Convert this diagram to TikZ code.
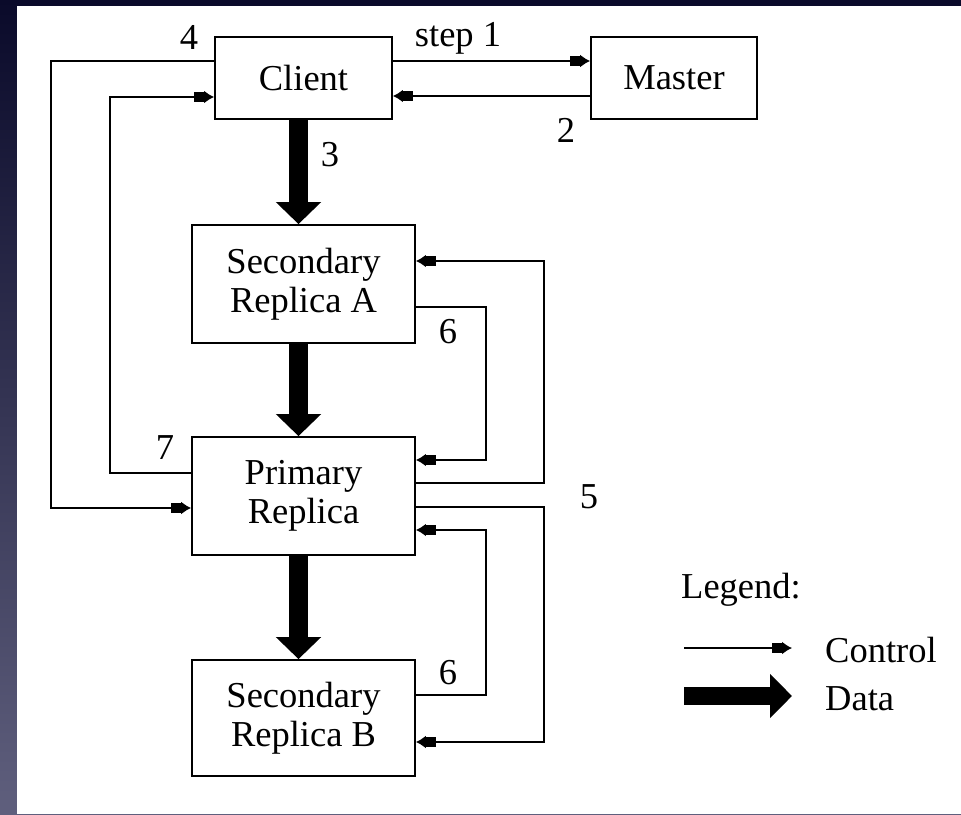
\documentclass[tikz,border=0pt]{standalone}
\usepackage{fontspec}
\setmainfont{Liberation Serif}
\usetikzlibrary{arrows.meta}
\definecolor{bgtop}{HTML}{0A0A2A}
\definecolor{bgbot}{HTML}{5F5F7D}
\begin{document}
\begin{tikzpicture}[x=1pt,y=-1pt,font=\fontsize{36.5}{39}\selectfont,
  box/.style={draw,line width=1.8pt,inner sep=0pt,align=center},
  ctrl/.style={line width=1.8pt,-{Square[length=11pt,width=10pt,sep=-1pt]Latex[length=10pt,width=13pt]}},
  heavy/.style={line width=2.8pt},
  data/.style={line width=19pt,-{Triangle[length=22pt,width=44pt]}},
  lbl/.style={inner sep=0pt}]
  \fill[top color=bgtop,bottom color=bgbot] (0,0) rectangle (961,814);
  \fill[white] (17,6) rectangle (961,814);
  \useasboundingbox (0,0) rectangle (961,814);
  \node[box,minimum width=177pt,minimum height=82pt] (client) at (303.5,78) {Client};
  \node[box,minimum width=166pt,minimum height=82pt] (master) at (674,78) {Master};
  \node[box,minimum width=223pt,minimum height=118pt] (secA) at (303.5,284) {Secondary\\Replica A};
  \node[box,minimum width=223pt,minimum height=118pt] (prim) at (303.5,496) {Primary\\Replica};
  \node[box,minimum width=223pt,minimum height=116pt] (secB) at (303.5,718) {Secondary\\Replica B};
  \coordinate (l4) at (51,508);
  \coordinate (l7) at (110,97);
  \coordinate (r6a) at (486,460);
  \coordinate (r5a) at (544,261);
  \coordinate (r5b) at (544,742);
  \coordinate (r6b) at (486,530);
  \draw[ctrl] ([yshift=17pt]client.east) -- ([yshift=17pt]master.west);
  \draw[ctrl,heavy] ([yshift=-18pt]master.west) -- ([yshift=-18pt]client.east);
  \draw[ctrl] ([yshift=17pt]client.west) -| (l4) -- ([yshift=-12pt]prim.west);
  \draw[ctrl,heavy] ([yshift=23pt]prim.west) -| (l7) -- ([yshift=-19pt]client.west);
  \draw[ctrl,heavy] ([yshift=-23pt]secA.east) -| (r6a) -- ([yshift=36pt]prim.east);
  \draw[ctrl,heavy] ([yshift=13pt]prim.east) -| (r5a) -- ([yshift=23pt]secA.east);
  \draw[ctrl] ([yshift=-11pt]prim.east) -| (r5b) -- ([yshift=-24pt]secB.east);
  \draw[ctrl,heavy] ([yshift=23pt]secB.east) -| (r6b) -- ([yshift=-34pt]prim.east);
  \draw[data] ([xshift=-5pt]client.south) -- ([xshift=-5pt]secA.north);
  \draw[data] ([xshift=-5pt]secA.south) -- ([xshift=-5pt]prim.north);
  \draw[data] ([xshift=-5pt]prim.south) -- ([xshift=-5pt]secB.north);
  \node[lbl] (step1) at (458,38) {step 1};
  \node[lbl] (n4) at (189,37) {4};
  \node[lbl] (n2) at (566,130) {2};
  \node[lbl] (n3) at (330,155) {3};
  \node[lbl] (n6a) at (448,332) {6};
  \node[lbl] (n7) at (165,448) {7};
  \node[lbl] (n5) at (589,497) {5};
  \node[lbl] (n6b) at (448,673) {6};
  \node[lbl] (legend) at (741,590) {Legend:};
  \coordinate (ctrlA) at (684,648);
  \coordinate (ctrlB) at (792,648);
  \coordinate (dataA) at (684,696);
  \coordinate (dataB) at (792,696);
  \draw[ctrl] (ctrlA) -- (ctrlB);
  \draw[line width=18pt,-{Triangle[length=22pt,width=43pt]}] (dataA) -- (dataB);
  \node[lbl,anchor=west] (ctrltxt) at (825,650) {Control};
  \node[lbl,anchor=west] (datatxt) at (825,699) {Data};
\end{tikzpicture}
\end{document}
